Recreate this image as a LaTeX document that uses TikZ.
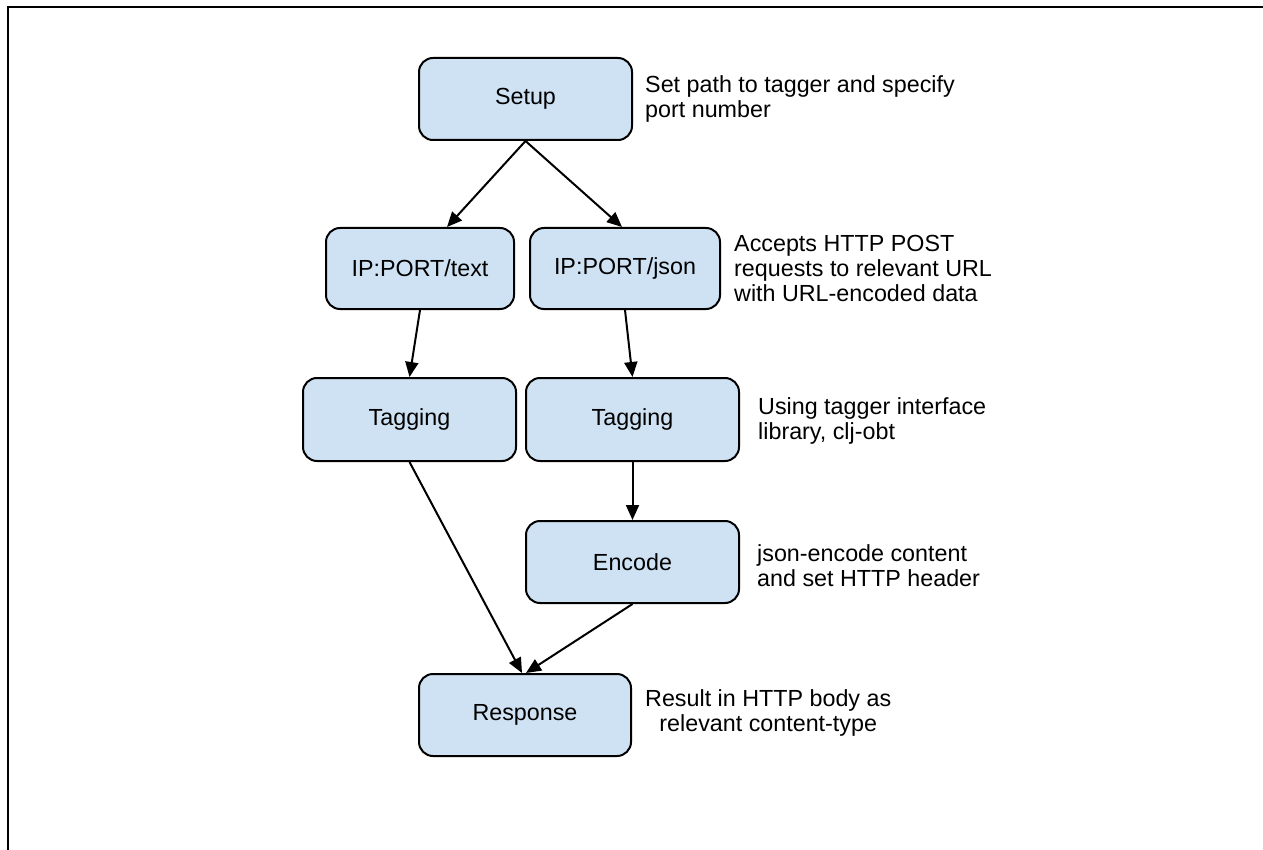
\documentclass[tikz,border=0pt]{standalone}
\usepackage{fontspec}
\setmainfont{Liberation Sans}
\usetikzlibrary{arrows.meta,calc}
\definecolor{boxfill}{HTML}{CFE2F3}
\begin{document}
\begin{tikzpicture}[x=1pt,y=-1pt,
  font=\fontsize{23.3pt}{25pt}\selectfont,
  stepbox/.style={draw=black,line width=2pt,fill=boxfill,rounded corners=14pt,
    inner sep=0pt,align=center},
  note/.style={inner sep=0pt,anchor=west},
  conn/.style={line width=2pt,-{Triangle[length=15pt,width=13pt]}}]
\useasboundingbox (0,0) rectangle (1263,850);
\fill[white] (0,0) rectangle (1263,850);
% frame
\draw[line width=1.3pt] (8,850) -- (8,7) -- (1263,7);
% boxes
\node[stepbox,minimum width=213pt,minimum height=82pt] (setup) at (525.5,99) {Setup};
\node[stepbox,minimum width=188pt,minimum height=81pt] (iptext) at (420,268.5) {IP:PORT/text};
\node[stepbox,minimum width=190pt,minimum height=81pt] (ipjson) at (625,268.5) {IP:PORT/json};
\node[stepbox,minimum width=213pt,minimum height=83pt] (tagl) at (409.5,419.5) {Tagging};
\node[stepbox,minimum width=213pt,minimum height=83pt] (tagr) at (632.5,419.5) {Tagging};
\node[stepbox,minimum width=213pt,minimum height=82pt] (encode) at (632.5,562) {Encode};
\node[stepbox,minimum width=212pt,minimum height=82pt] (response) at (525,715) {Response};
% annotations
\node[note,align=left] (n1) at (645,99) {Set path to tagger and specify\\port number};
\node[note,align=left] (n2) at (734,268.5) {Accepts HTTP POST\\requests to relevant URL\\with URL-encoded data};
\node[note,align=left] (n3) at (758,421) {Using tagger interface\\library, clj-obt};
\node[note,align=left] (n4) at (757,566) {json-encode content\\and set HTTP header};
\node[note,align=center] (n5) at (645,713) {Result in HTTP body as\\relevant content-type};
% connectors
\draw[conn] (setup.south) -- ([xshift=27pt]iptext.north);
\draw[conn] (setup.south) -- ([xshift=-3pt]ipjson.north);
\draw[conn] (iptext.south) -- (tagl.north);
\draw[conn] (ipjson.south) -- (tagr.north);
\draw[conn] (tagr.south) -- (encode.north);
\draw[conn] (tagl.south) -- ([xshift=-3pt]response.north);
\draw[conn] (encode.south) -- ([xshift=1pt]response.north);
\end{tikzpicture}
\end{document}
